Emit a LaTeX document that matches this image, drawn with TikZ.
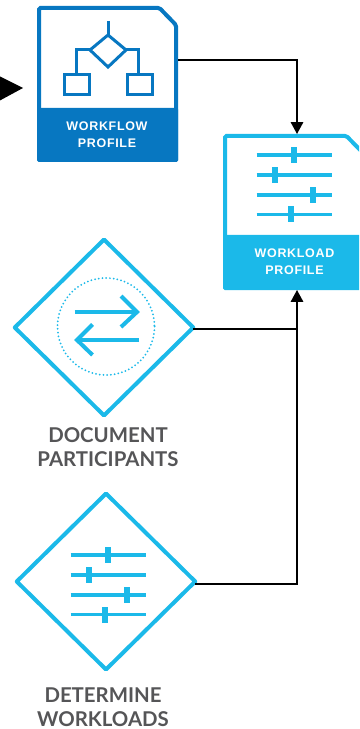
\documentclass[tikz,border=0pt]{standalone}
\usepackage{fontspec}
\setmainfont{Lato}
\newfontfamily\cardfont[LetterSpace=5.5]{Liberation Sans}
\usepackage{xcolor}
\usepackage{tikz}
\usetikzlibrary{arrows.meta}
\usetikzlibrary{shapes.geometric}
\definecolor{darkblue}{HTML}{0777C1}
\definecolor{lightblue}{HTML}{1BB9E9}
\definecolor{labelgrey}{HTML}{555557}
\tikzset{
  card/.style={minimum width=2.84cm, minimum height=3.12cm, inner sep=0pt, outer sep=0pt},
  cardtext/.style={text=white, font=\cardfont\bfseries\fontsize{7.1}{9.6}\selectfont, align=center},
  decision/.style={diamond, aspect=1, draw=lightblue, line width=0.08cm, line join=round, minimum width=3.57cm, minimum height=3.52cm, inner sep=0pt, outer sep=0pt},
  steplabel/.style={text=labelgrey, font=\bfseries\fontsize{11.6}{13.6}\selectfont, align=center},
  flow/.style={-{Triangle[length=0.24cm,width=0.25cm]}, line width=0.035cm},
  plainflow/.style={line width=0.035cm},
  pics/sliders/.style={code={
    \foreach \y/\h in {-30/0, -10/-19, 10/19, 29.5/-3} {
      \draw [line width=0.07cm] (-37.5,\y) -- (37.5,\y);
      \fill (\h-3.3,\y-8) rectangle (\h+3.3,\y+8);
    }
  }}
}
\begin{document}
\begin{tikzpicture}[x=0.02cm, y=-0.02cm]
\useasboundingbox (0,0) rectangle (359,729);
\clip (0,0) rectangle (359,729);

\node [card] (workflow) at (107.5,84) {};
\node [card] (workload) at (294,212) {};
\node [decision] (participants) at (104,327.5) {};
\node [decision] (workloads) at (106,581.5) {};

% first card
\draw [darkblue, line width=0.08cm, rounded corners=0.03cm] (39,160) -- (39,8) -- (159.5,8) -- (176,25) -- (176,160);
\fill [darkblue, rounded corners=0.03cm] (37,108) rectangle (178,162);
\node [cardtext] at (107,135) {WORKFLOW\\PROFILE};
\begin{scope}[darkblue, line width=0.06cm]
\draw (108,21) -- (108,35);
\draw (108,35) -- (126,50) -- (108,67) -- (90,50) -- cycle;
\draw (90,50) -- (76.5,50) -- (76.5,75);
\draw (126,50) -- (138,50) -- (138,75);
\draw (64,75) rectangle (89.5,95);
\draw (127,75) rectangle (152.5,95);
\end{scope}

% second card
\draw [lightblue, line width=0.08cm, rounded corners=0.03cm] (225,288) -- (225,136) -- (346.5,136) -- (363,153) -- (363,288);
\fill [lightblue, rounded corners=0.03cm] (223,235) rectangle (365,290);
\node [cardtext] at (294.5,262) {WORKLOAD\\PROFILE};
\pic [lightblue] at (294,185) {sliders};

% inside the diamonds
\draw [lightblue, line width=0.04cm, dash pattern=on 0pt off 0.075cm, line cap=round] (106,326.5) circle (48.5);
\begin{scope}[lightblue, line width=0.08cm]
\draw (74.5,312) -- (137,312);
\draw (121,296) -- (137,312) -- (121,327);
\draw (139,340) -- (77,340);
\draw (92.5,324.5) -- (77,340) -- (92.5,355);
\end{scope}
\pic [lightblue] at (108,585) {sliders};

\node [steplabel] at (108,447) {DOCUMENT\\PARTICIPANTS};
\node [steplabel] at (103,707) {DETERMINE\\WORKLOADS};

% connectors
\coordinate (workflow out) at (workflow.east |- 0,60);
\coordinate (workload top) at (297,0 |- workload.north);
\coordinate (workload bottom) at (297,0 |- workload.south);
\coordinate (participants out) at (participants.east |- 0,329);
\coordinate (workloads out) at (workloads.east |- 0,584);
\coordinate (entry tip) at (23,88);

\draw [flow] (workflow out) -| (workload top);
\draw [flow] (workloads out) -| (workload bottom);
\draw [plainflow] (participants out) -- (workload bottom |- participants out);
\fill (entry tip) -- (-1,76) -- (-1,101) -- cycle;
\end{tikzpicture}
\end{document}
